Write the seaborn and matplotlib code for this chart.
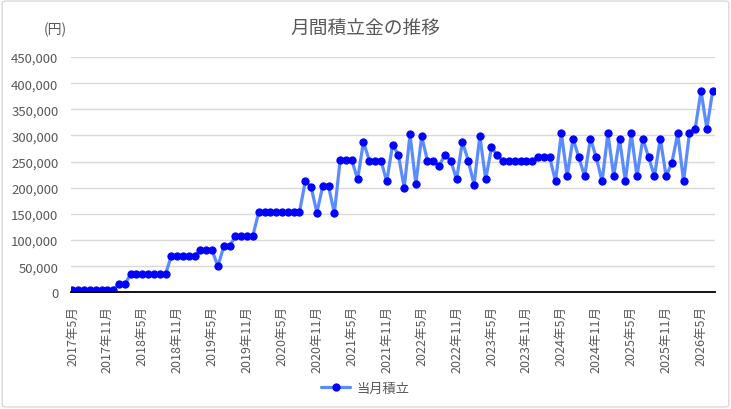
import numpy as np
import pandas as pd
import matplotlib
matplotlib.use("Agg")
import matplotlib.pyplot as plt
from matplotlib.patches import FancyBboxPatch
from matplotlib.ticker import FuncFormatter
import seaborn as sns

# monthly data, 2017-05 .. 2026-07
start_year = 2017
start_month = 5
amounts = [
    5000, 5000, 5000, 5000, 5000, 5000, 5000, 5000,
    15000, 15000,
    35000, 35000, 35000, 35000, 35000, 35000, 35000,
    70000, 70000, 70000, 70000, 70000,
    80000, 80000, 80000,
    50000,
    88000, 88000,
    108000, 108000, 108000, 108000,
    153000, 153000, 153000, 153000, 153000, 153000, 153000, 153000,
    212000, 202000, 152000, 203000, 203000, 151000,
    253000, 253000, 253000, 216000, 288000,
    252000, 252000, 252000, 212000, 282000, 263000, 200000, 302000, 207000,
    298000, 252000, 252000, 242000, 263000, 252000, 216000, 288000, 252000,
    206000, 299000, 216000, 277000, 262000,
    251000, 251000, 251000, 251000, 251000, 251000,
    258000, 258000, 258000,
    212000, 304000, 222000, 294000, 258000, 222000, 294000, 258000,
    212000, 304000, 222000, 294000, 212000, 304000, 222000, 294000,
    258000, 222000, 294000, 222000, 248000, 304000, 212000, 304000,
    313000, 385000, 313000, 385000,
]

months = []
y, m = start_year, start_month
for _ in amounts:
    months.append((y, m))
    m += 1
    if m > 12:
        m = 1
        y += 1
labels = [f"{yy}年{mm}月" for yy, mm in months]

df = pd.DataFrame({"idx": np.arange(len(amounts)), "amount": amounts})

sns.set_style("white")
plt.rcParams["font.family"] = ["Noto Sans CJK JP", "DejaVu Sans"]

text_color = "#595959"
fig = plt.figure(figsize=(7.31, 4.10), dpi=100)
ax = fig.add_axes([0.0971, 0.2846, 0.881, 0.5739])

sns.lineplot(data=df, x="idx", y="amount", ax=ax, color="#5A8CFF",
             linewidth=2.3, marker="o", markersize=5.2,
             markerfacecolor="#0000FF", markeredgecolor="#0000FF",
             label="当月積立")

ax.set_xlim(-0.25, 110.4)
ax.set_ylim(0, 450000)
ax.set_yticks(np.arange(0, 450001, 50000))
ax.yaxis.set_major_formatter(FuncFormatter(lambda v, p: f"{int(v):,}"))
ax.yaxis.grid(True, color="#d9d9d9", linewidth=1)
ax.set_axisbelow(True)

tick_pos = list(range(0, len(amounts), 6))
ax.set_xticks(tick_pos)
ax.set_xticklabels([labels[i] for i in tick_pos], rotation=90)
ax.tick_params(axis="both", length=0, labelcolor=text_color)
ax.tick_params(axis="x", pad=9, labelsize=9)
ax.tick_params(axis="y", pad=9, labelsize=9.5)
ax.set_xlabel("")
ax.set_ylabel("")

for s in ["top", "right", "left"]:
    ax.spines[s].set_visible(False)
ax.spines["bottom"].set_color("black")
ax.spines["bottom"].set_linewidth(1.3)

ax.get_legend().remove()
handles, leg_labels = ax.get_legend_handles_labels()
fig.legend(handles, leg_labels, loc="center", bbox_to_anchor=(0.5, 0.05),
           frameon=False, fontsize=9.5, labelcolor=text_color,
           handlelength=2.2, handletextpad=0.5)

fig.text(0.5, 0.93, "月間積立金の推移", ha="center", va="center",
         fontsize=13.5, color=text_color)
fig.text(0.075, 0.928, "(円)", ha="center", va="center",
         fontsize=10, color=text_color)

border = FancyBboxPatch((0.003, 0.005), 0.994, 0.99, transform=fig.transFigure,
                        boxstyle="round,pad=0,rounding_size=0.005",
                        facecolor="none", edgecolor="#d9d9d9", linewidth=1)
fig.patches.append(border)

fig.savefig("out.png", dpi=100)
